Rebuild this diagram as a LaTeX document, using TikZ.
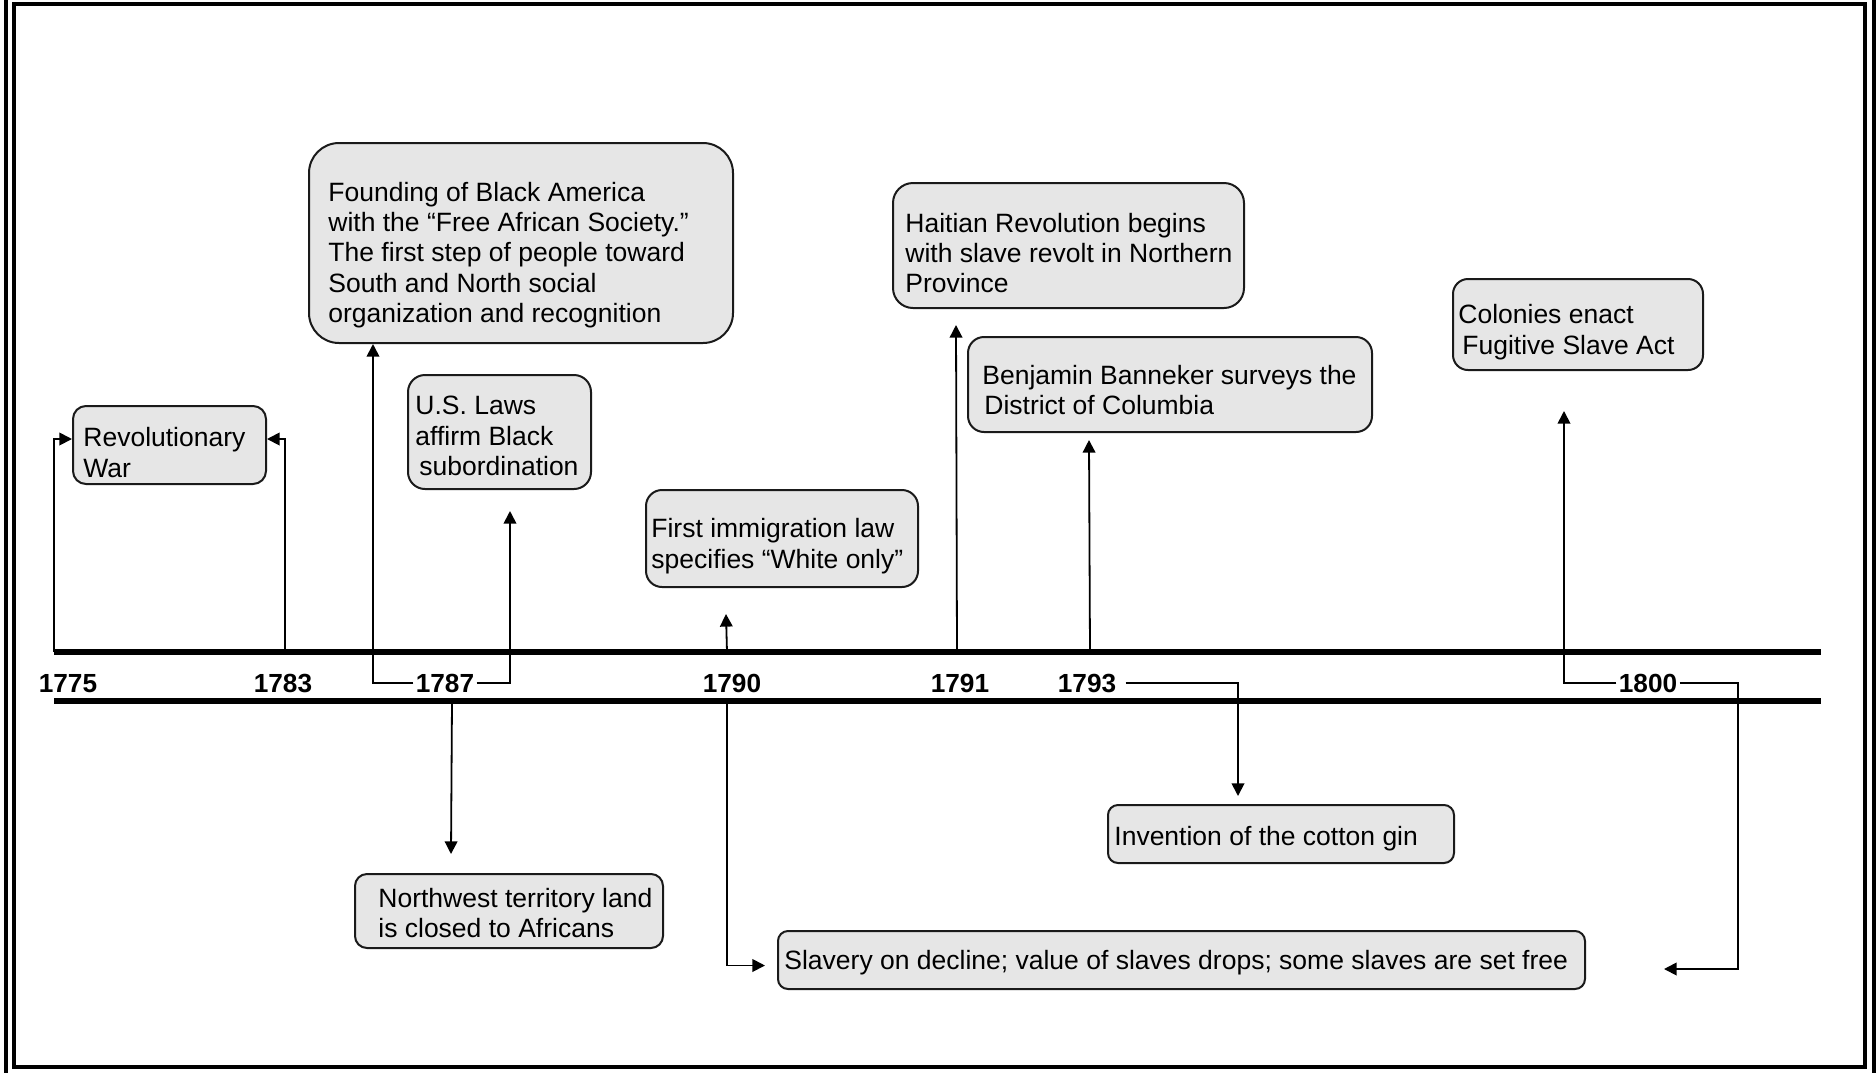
\documentclass[tikz,border=0pt]{standalone}
\usepackage{fontspec}
\setmainfont{Liberation Sans}
\usetikzlibrary{arrows.meta,calc,fit}
\definecolor{boxgray}{HTML}{E6E6E6}
\definecolor{boxline}{HTML}{1A1A1A}

\begin{document}
\begin{tikzpicture}[x=0.5pt,y=-0.5pt,
  evbox/.style={draw=boxline, line width=1pt, fill=boxgray, inner sep=0pt},
  evtext/.style={anchor=north west, inner sep=0pt, align=left,
                 font=\fontsize{13.25}{15.2}\selectfont},
  year/.style={font=\bfseries\fontsize{13.1}{15}\selectfont, inner sep=1pt,
               text height=9.4pt, text depth=0pt},
  conn/.style={line width=0.9pt, -{Triangle[width=6.3pt,length=6.3pt]}},
  rail/.style={line width=2.8pt},
  frame/.style={line width=2pt}]

\useasboundingbox (0,0) rectangle (1876,1073);

% page frame
\draw[frame] (14,4) rectangle (1865,1067);
\draw[frame] (6,0) -- (6,1073);
\draw[frame] (1874,0) -- (1874,1073);

% timeline rails
\draw[rail] (54,652) -- (1821,652);
\draw[rail] (54,701) -- (1821,701);

% year labels
\node[year] (y1775) at (68,683)   {1775};
\node[year] (y1783) at (283,683)  {1783};
\node[year] (y1787) at (445,683)  {1787};
\node[year] (y1790) at (732,683)  {1790};
\node[year] (y1791) at (960,683)  {1791};
\node[year] (y1793) at (1087,683) {1793};
\node[year] (y1800) at (1648,683) {1800};

% event boxes
\node[evbox, rounded corners=6.5pt, fit={(73,406)(266,484)}] (rev) {};
\node[evtext] (rev-t) at (83,427) {Revolutionary\\War};

\node[evbox, rounded corners=15pt, fit={(309,143)(733,343)}] (found) {};
\node[evtext] (found-t) at (328,181.5) {Founding of Black America\\with the “Free African Society.”\\The first step of people toward\\South and North social\\organization and recognition};

\node[evbox, rounded corners=8.5pt, fit={(408,375)(591,489)}] (laws) {};
\node[evtext] (laws-t) at (415,396) {U.S. Laws\\affirm Black\\\hspace*{2pt}subordination};

\node[evbox, rounded corners=8pt, fit={(646,490)(918,587)}] (imm) {};
\node[evtext] (imm-t) at (651,518) {First immigration law\\specifies “White only”};

\node[evbox, rounded corners=10pt, fit={(893,183)(1244,308)}] (hait) {};
\node[evtext] (hait-t) at (905,212.5) {Haitian Revolution begins\\with slave revolt in Northern\\Province};

\node[evbox, rounded corners=8pt, fit={(968,337)(1372,432)}] (ban) {};
\node[evtext] (ban-t) at (982,364.5) {Benjamin Banneker surveys the\\\hspace*{1pt}District of Columbia};

\node[evbox, rounded corners=7.5pt, fit={(1453,279)(1703,370)}] (col) {};
\node[evtext] (col-t) at (1458,304) {Colonies enact\\\hspace*{2pt}Fugitive Slave Act};

\node[evbox, rounded corners=6pt, fit={(355,874)(663,948)}] (nw) {};
\node[evtext] (nw-t) at (378,887.5) {Northwest territory land\\is closed to Africans};

\node[evbox, rounded corners=5pt, fit={(1108,805)(1454,863)}] (gin) {};
\node[evtext] (gin-t) at (1114,826) {Invention of the cotton gin};

\node[evbox, rounded corners=5pt, fit={(778,931)(1585,989)}] (slav) {};
\node[evtext] (slav-t) at (784,950) {Slavery on decline; value of slaves drops; some slaves are set free};

% points on the rails where connectors start
\coordinate (u1775) at (54,652);
\coordinate (u1783) at (285,652);
\coordinate (d1787) at (452,701);
\coordinate (u1790) at (727,652);
\coordinate (d1790) at (727,701);
\coordinate (u1791) at (957,652);
\coordinate (u1793) at (1090,652);
\coordinate (k1800) at (1738,969);

% connectors
\draw[conn] (u1775) |- ($(rev.north west)+(0,34)$);
\draw[conn] (u1783) |- ($(rev.north east)+(0,34)$);
\draw[conn] (y1787.west) -| ($(found.south west)+(65,0)$);
\draw[conn] (y1787.east) -| ($(laws.south west)+(103,21)$);
\draw[conn] (d1787) -- ($(nw.north west)+(97,-19)$);
\draw[conn] (u1790) -- ($(imm.south west)+(81,26)$);
\draw[conn] (d1790) |- ($(slav.west)+(-12,5.5)$);
\draw[conn] (u1791) -- ($(hait.south west)+(64,16)$);
\draw[conn] (u1793) -- ($(ban.south west)+(122,7)$);
\draw[conn] ($(y1793.east)+(7,0)$) -| ($(gin.north west)+(131,-8)$);
\draw[conn] (y1800.west) -| ($(col.south west)+(112,40)$);
\draw[conn] (y1800.east) -| (k1800) -- ($(slav.east)+(78,9)$);

\end{tikzpicture}
\end{document}
